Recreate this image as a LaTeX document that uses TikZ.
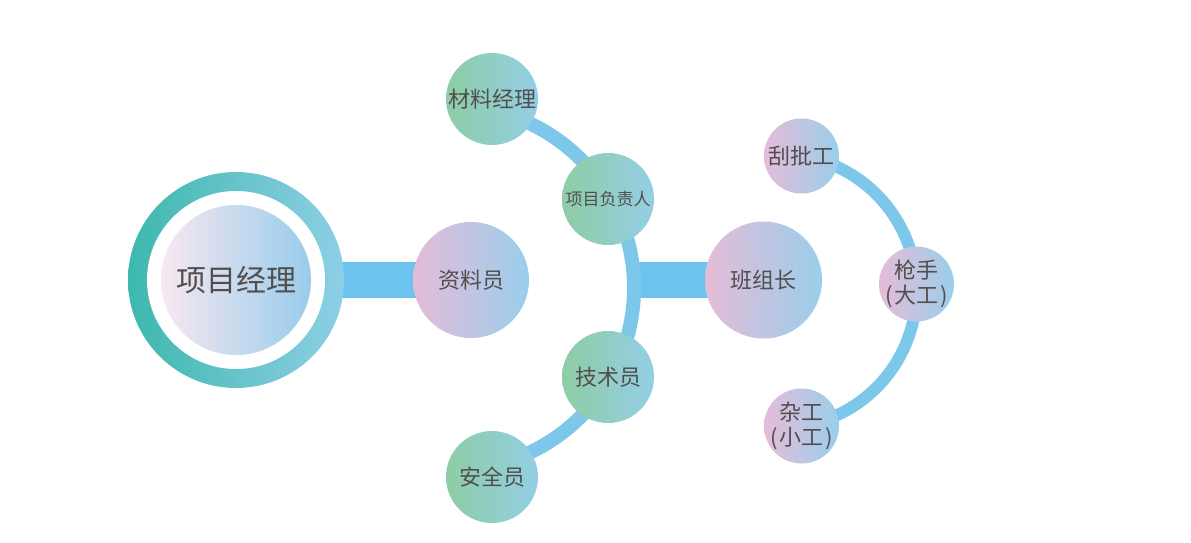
\documentclass[tikz,border=0pt]{standalone}
\usepackage{fontspec}
\newfontfamily\cjk{Noto Sans CJK SC}
\pgfdeclarelayer{background}
\pgfsetlayers{background,main}
\definecolor{txt}{HTML}{524E4E}
\definecolor{ringL}{HTML}{3DB8AE}
\definecolor{ringR}{HTML}{8ECFE6}
\definecolor{innL}{HTML}{F8E8F1}
\definecolor{innR}{HTML}{98CCEB}
\definecolor{grnL}{HTML}{8ECDA4}
\definecolor{grnR}{HTML}{94CEE6}
\definecolor{pnkL}{HTML}{E5BCD8}
\definecolor{pnkR}{HTML}{9ACEEB}
\definecolor{conn}{HTML}{6CC4EE}
\definecolor{arcc}{HTML}{7CC7EA}
\tikzset{
  ball/.style={circle, inner sep=0pt, text=txt, align=center, font=\cjk\fontsize{22}{25}\selectfont},
  gball/.style={ball, left color=grnL, right color=grnR, minimum size=92pt},
  pball/.style={ball, left color=pnkL, right color=pnkR},
  twoline/.style={inner sep=-8pt},
  bar/.style={draw=conn, line width=36pt},
  arcline/.style={draw=arcc, line width=14pt},
  arclinesm/.style={draw=arcc, line width=12pt},
}
\begin{document}
\begin{tikzpicture}[x=1pt,y=1pt]
\useasboundingbox (0,0) rectangle (1191,542);
% main node
\node[circle, inner sep=0pt, minimum size=216pt, left color=ringL, right color=ringR] (main) at (236,262) {};
\node[circle, inner sep=0pt, minimum size=178pt, fill=white] (mainw) at (main.center) {};
\node[ball, minimum size=150pt, left color=innL, right color=innR, font=\cjk\fontsize{30}{34}\selectfont] (mainin) at (main.center) {项目经理};
% second column
\node[pball, minimum size=116pt] (zly) at (471,262) {资料员};
\node[gball] (clj) at (492,443) {材料经理};
\node[gball, font=\cjk\fontsize{17}{20}\selectfont] (xmf) at (608,343) {项目负责人};
\node[gball] (jsy) at (608,165) {技术员};
\node[gball] (aqy) at (492,65) {安全员};
% third
\node[pball, minimum size=117pt] (bzz) at (763.5,262) {班组长};
\node[pball, minimum size=75pt] (gpg) at (801.5,386) {刮批工};
\node[pball, twoline, minimum size=75pt] (qs) at (916.5,258) {枪手\\(\kern2pt大工\kern2pt)};
\node[pball, twoline, minimum size=75pt] (zg) at (801.5,116) {杂工\\(\kern2pt小工\kern2pt)};
\coordinate (arcL) at (452,254);
\coordinate (arcR) at (779.8,251);
\coordinate (barstart) at (630,262);
\begin{pgfonlayer}{background}
\draw[bar] (main.center) -- (zly.center);
\draw[bar] (barstart) -- (bzz.center);
\draw[arcline] (arcL) ++(80:182) arc[start angle=80, end angle=-80, radius=182];
\draw[arclinesm] (arcR) ++(82:136.7) arc[start angle=82, end angle=-82, radius=136.7];
\end{pgfonlayer}
\end{tikzpicture}
\end{document}
